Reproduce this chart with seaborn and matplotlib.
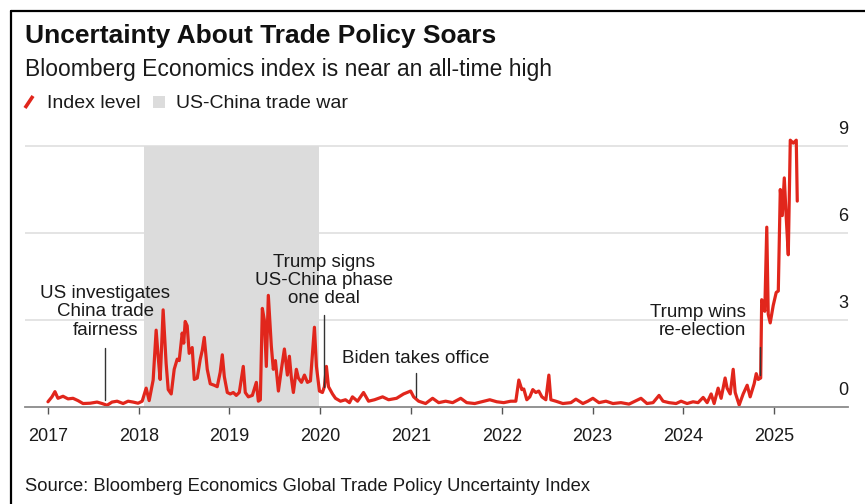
import matplotlib
matplotlib.use("Agg")
import matplotlib.pyplot as plt
import seaborn as sns
import pandas as pd
from matplotlib.lines import Line2D
from matplotlib.patches import Rectangle

# ---------------- data ----------------
year_frac = [
    2017.000, 2017.044, 2017.077, 2017.110, 2017.166, 2017.221, 2017.276, 2017.331, 2017.386, 2017.464,
    2017.541, 2017.596, 2017.651, 2017.706, 2017.762, 2017.828, 2017.883, 2017.938, 2017.993, 2018.038,
    2018.082, 2018.115, 2018.159, 2018.192, 2018.214, 2018.236, 2018.247, 2018.269, 2018.302, 2018.325,
    2018.358, 2018.391, 2018.424, 2018.446, 2018.479, 2018.496, 2018.512, 2018.534, 2018.556, 2018.589,
    2018.612, 2018.645, 2018.678, 2018.700, 2018.722, 2018.755, 2018.788, 2018.832, 2018.865, 2018.898,
    2018.921, 2018.943, 2018.976, 2019.009, 2019.042, 2019.075, 2019.108, 2019.152, 2019.174, 2019.208,
    2019.252, 2019.296, 2019.318, 2019.340, 2019.362, 2019.384, 2019.406, 2019.428, 2019.461, 2019.483,
    2019.506, 2019.539, 2019.572, 2019.605, 2019.638, 2019.660, 2019.682, 2019.704, 2019.737, 2019.759,
    2019.793, 2019.826, 2019.859, 2019.892, 2019.936, 2019.958, 2019.991, 2020.024, 2020.046, 2020.068,
    2020.091, 2020.135, 2020.168, 2020.223, 2020.278, 2020.322, 2020.355, 2020.411, 2020.477, 2020.532,
    2020.598, 2020.687, 2020.753, 2020.841, 2020.918, 2020.996, 2021.029, 2021.084, 2021.161, 2021.238,
    2021.305, 2021.382, 2021.459, 2021.548, 2021.614, 2021.702, 2021.779, 2021.868, 2021.945, 2022.022,
    2022.099, 2022.155, 2022.188, 2022.221, 2022.243, 2022.276, 2022.309, 2022.342, 2022.375, 2022.408,
    2022.442, 2022.486, 2022.519, 2022.541, 2022.596, 2022.673, 2022.762, 2022.817, 2022.894, 2022.949,
    2023.004, 2023.071, 2023.148, 2023.225, 2023.313, 2023.402, 2023.468, 2023.534, 2023.600, 2023.667,
    2023.733, 2023.777, 2023.843, 2023.921, 2023.976, 2024.042, 2024.108, 2024.163, 2024.219, 2024.263,
    2024.307, 2024.340, 2024.384, 2024.417, 2024.461, 2024.483, 2024.517, 2024.550, 2024.572, 2024.616,
    2024.660, 2024.704, 2024.737, 2024.781, 2024.804, 2024.826, 2024.853, 2024.864, 2024.881, 2024.898,
    2024.920, 2024.936, 2024.958, 2024.991, 2025.024, 2025.047, 2025.069, 2025.091, 2025.113, 2025.135,
    2025.157, 2025.179, 2025.212, 2025.245, 2025.256,
]
index_level = [
    0.18, 0.35, 0.53, 0.30, 0.37, 0.28, 0.30, 0.22, 0.12, 0.13,
    0.17, 0.12, 0.06, 0.17, 0.20, 0.12, 0.20, 0.17, 0.13, 0.20,
    0.65, 0.22, 0.93, 2.65, 1.75, 0.95, 1.70, 3.35, 1.50, 0.60,
    0.45, 1.30, 1.65, 1.60, 2.55, 2.20, 2.95, 2.80, 1.85, 2.05,
    0.95, 1.00, 1.65, 1.95, 2.40, 1.30, 0.80, 0.75, 0.70, 1.20,
    1.80, 1.05, 0.50, 0.45, 0.50, 0.40, 0.50, 1.40, 0.50, 0.35,
    0.40, 0.85, 0.20, 0.25, 3.40, 3.00, 1.40, 3.85, 2.10, 1.30,
    1.60, 0.55, 1.30, 2.00, 1.10, 1.75, 1.00, 0.50, 1.30, 1.00,
    0.85, 1.10, 0.85, 0.90, 2.75, 1.40, 0.55, 0.50, 0.70, 1.40,
    0.70, 0.45, 0.30, 0.20, 0.25, 0.15, 0.35, 0.20, 0.50, 0.20,
    0.25, 0.35, 0.25, 0.30, 0.45, 0.55, 0.35, 0.20, 0.12, 0.30,
    0.15, 0.20, 0.15, 0.30, 0.15, 0.12, 0.18, 0.25, 0.18, 0.15,
    0.20, 0.20, 0.93, 0.60, 0.62, 0.25, 0.35, 0.60, 0.50, 0.55,
    0.35, 0.25, 1.10, 0.25, 0.20, 0.12, 0.15, 0.27, 0.12, 0.20,
    0.30, 0.15, 0.20, 0.12, 0.15, 0.10, 0.20, 0.30, 0.12, 0.15,
    0.40, 0.20, 0.15, 0.12, 0.20, 0.12, 0.18, 0.15, 0.33, 0.15,
    0.45, 0.12, 0.65, 0.30, 1.00, 0.65, 0.45, 1.30, 0.50, 0.07,
    0.45, 0.75, 0.35, 0.80, 1.15, 0.95, 1.00, 3.70, 3.55, 3.30,
    6.20, 3.20, 2.90, 3.50, 3.95, 4.00, 7.50, 6.60, 7.90, 6.50,
    5.25, 9.20, 9.10, 9.20, 7.10,
]
year_ticks = [2017, 2018, 2019, 2020, 2021, 2022, 2023, 2024, 2025]
year_labels = ["2017", "2018", "2019", "2020", "2021", "2022", "2023", "2024", "2025"]
value_ticks = [0, 3, 6, 9]
value_labels = ["0", "3", "6", "9"]
trade_war_start = 2018.06
trade_war_end = 2019.99
event_dates = [2017.63, 2020.04, 2021.05, 2024.85]
event_labels = [
    "US investigates\nChina trade\nfairness",
    "Trump signs\nUS-China phase\none deal",
    "Biden takes office",
    "Trump wins\nre-election",
]

title = "Uncertainty About Trade Policy Soars"
subtitle = "Bloomberg Economics index is near an all-time high"
legend_line_label = "Index level"
legend_band_label = "US-China trade war"
source = "Source: Bloomberg Economics Global Trade Policy Uncertainty Index"

# ---------------- style ----------------
RED = "#e1261c"
BAND = "#dcdcdc"
GRID = "#e2e2e2"
TXT = "#1a1a1a"

sns.set_theme(style="white")
plt.rcParams["font.family"] = ["Liberation Sans", "DejaVu Sans"]

W, H = 865, 504
fig = plt.figure(figsize=(W / 100, H / 100), dpi=100)
fig.patch.set_facecolor("white")


def fx(px):
    return px / W


def fy(py):
    return 1 - py / H


# axes: x from 25 to 848 px, value 0 at y=407 px
ymax = 9.6
top_px = 407 - ymax * 29
ax = fig.add_axes([fx(25), fy(407), fx(848) - fx(25), fy(top_px) - fy(407)])
ax.set_facecolor("none")

df = pd.DataFrame({"year": year_frac, "index": index_level})

# trade war band
ax.fill_between([trade_war_start, trade_war_end], 0, value_ticks[-1],
                color=BAND, lw=0, zorder=1)
# grid
for v in value_ticks[1:]:
    ax.axhline(v, color=GRID, lw=1.3, zorder=0.5)

sns.lineplot(data=df, x="year", y="index", color=RED, lw=2.3, ax=ax,
             zorder=4, clip_on=False)

ax.set_xlim(2016.747, 2025.815)
ax.set_ylim(0, ymax)
ax.set_xlabel("")
ax.set_ylabel("")
ax.set_xticks(year_ticks)
ax.set_xticklabels(year_labels)
ax.set_yticks([])
for s in ["top", "right", "left"]:
    ax.spines[s].set_visible(False)
ax.spines["bottom"].set_color("#8a8a8a")
ax.spines["bottom"].set_linewidth(1.3)
ax.spines["bottom"].set_zorder(5)
ax.tick_params(axis="x", length=5, width=1, color="#555555", pad=10,
               labelsize=13, labelcolor=TXT, bottom=True)

# right-hand value labels above gridlines
for v, lab in zip(value_ticks, value_labels):
    ax.annotate(lab, xy=(1.0, v), xycoords=("axes fraction", "data"),
                xytext=(0, 6), textcoords="offset points",
                ha="right", va="bottom", fontsize=13, color=TXT)

# event annotations
line_spans = [(0.24, 2.03), (0.69, 3.17), (0.34, 1.17), (1.10, 2.07)]
text_pos = [(2017.63, 3.28, "center"), (2020.04, 4.36, "center"),
            (2021.05, 1.66, "center"), (2024.69, 2.95, "right")]
for d, lab, (y0, y1), (tx, ty, ha) in zip(event_dates, event_labels, line_spans, text_pos):
    ax.plot([d, d], [y0, y1], color="#333333", lw=1.0, zorder=5)
    ax.text(tx, ty, lab, ha=ha, va="center", fontsize=13.5, color=TXT,
            linespacing=1.1, zorder=6, multialignment=ha)

# titles
fig.text(fx(25), fy(43), title, fontsize=19, fontweight="bold", color="#111111",
         ha="left", va="baseline")
fig.text(fx(25), fy(76), subtitle, fontsize=16.5, color=TXT, ha="left", va="baseline")

# legend (manual)
fig.add_artist(Line2D([fx(25), fx(33)], [fy(108), fy(96)], color=RED, lw=2.6,
                      solid_capstyle="butt"))
fig.text(fx(47), fy(108), legend_line_label, fontsize=14, color=TXT,
         ha="left", va="baseline")
fig.add_artist(Rectangle((fx(153), fy(108)), fx(12), 12 / H, color=BAND, lw=0))
fig.text(fx(176), fy(108), legend_band_label, fontsize=14, color=TXT,
         ha="left", va="baseline")

# source
fig.text(fx(25), fy(491), source, fontsize=13.2, color=TXT, ha="left", va="baseline")

# frame (left and top edges)
fig.add_artist(Line2D([fx(11), fx(11)], [fy(11), 0], color="black", lw=1.6))
fig.add_artist(Line2D([fx(11), 1], [fy(11), fy(11)], color="black", lw=1.6))

fig.savefig("out.png", dpi=100)
